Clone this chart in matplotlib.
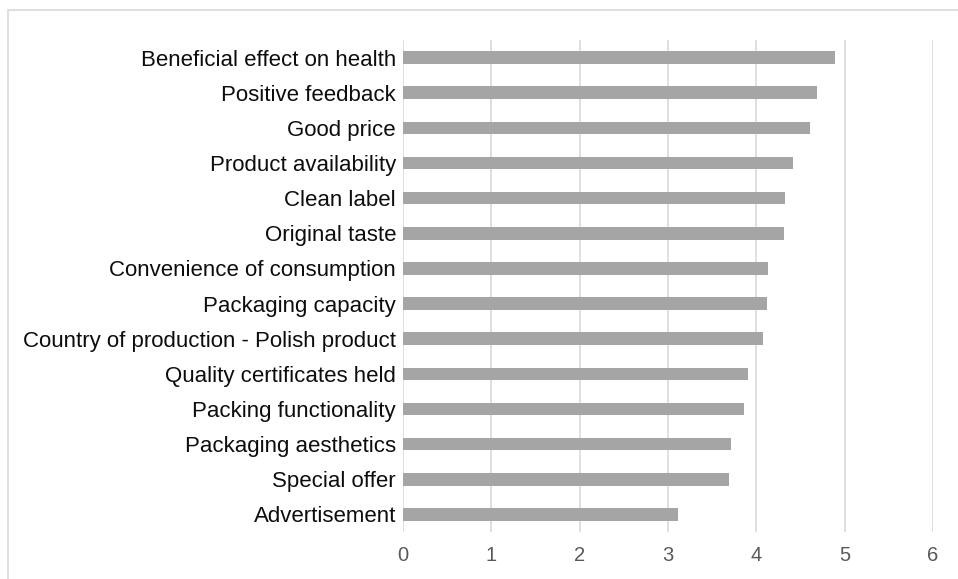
import matplotlib
matplotlib.use('Agg')
import matplotlib.pyplot as plt
from matplotlib.patches import Rectangle

# factors, top to bottom, with their mean scores
factors = ['Beneficial effect on health', 'Positive feedback', 'Good price',
           'Product availability', 'Clean label', 'Original taste',
           'Convenience of consumption', 'Packaging capacity',
           'Country of production - Polish product', 'Quality certificates held',
           'Packing functionality', 'Packaging aesthetics', 'Special offer',
           'Advertisement']
scores = [4.89, 4.69, 4.61, 4.42, 4.32, 4.31, 4.13, 4.12, 4.08, 3.90,
          3.855, 3.715, 3.69, 3.115]
xticks = [0, 1, 2, 3, 4, 5, 6]

plt.rcParams['font.family'] = ['Liberation Sans', 'DejaVu Sans']

fig = plt.figure(figsize=(9.58, 5.79), dpi=100)
ax = fig.add_axes([0.4207, 0.0812, 0.5532, 0.8497])

# outer chart frame
fig.patches.append(Rectangle((8/958, -0.1), 2, 1 - 10/579 + 0.1,
                             transform=fig.transFigure, fill=False,
                             edgecolor='#d9d9d9', linewidth=1.2))

pos = list(range(len(factors)))[::-1]
ax.barh(pos, scores, height=0.36, color='#a5a5a5', zorder=3)

ax.set_xlim(0, 6)
ax.set_ylim(-0.5, len(factors) - 0.5)
ax.set_xticks(xticks)
ax.set_yticks(pos)
ax.set_yticklabels(factors, fontsize=16, color='#0d0d0d')
ax.tick_params(axis='x', labelsize=14.5, labelcolor='#595959', length=0, pad=10)
ax.tick_params(axis='y', length=0, pad=5)
ax.grid(axis='x', color='#d9d9d9', linewidth=1.2, zorder=0)
for s in ax.spines.values():
    s.set_visible(False)

fig.savefig('out.png', dpi=100)
